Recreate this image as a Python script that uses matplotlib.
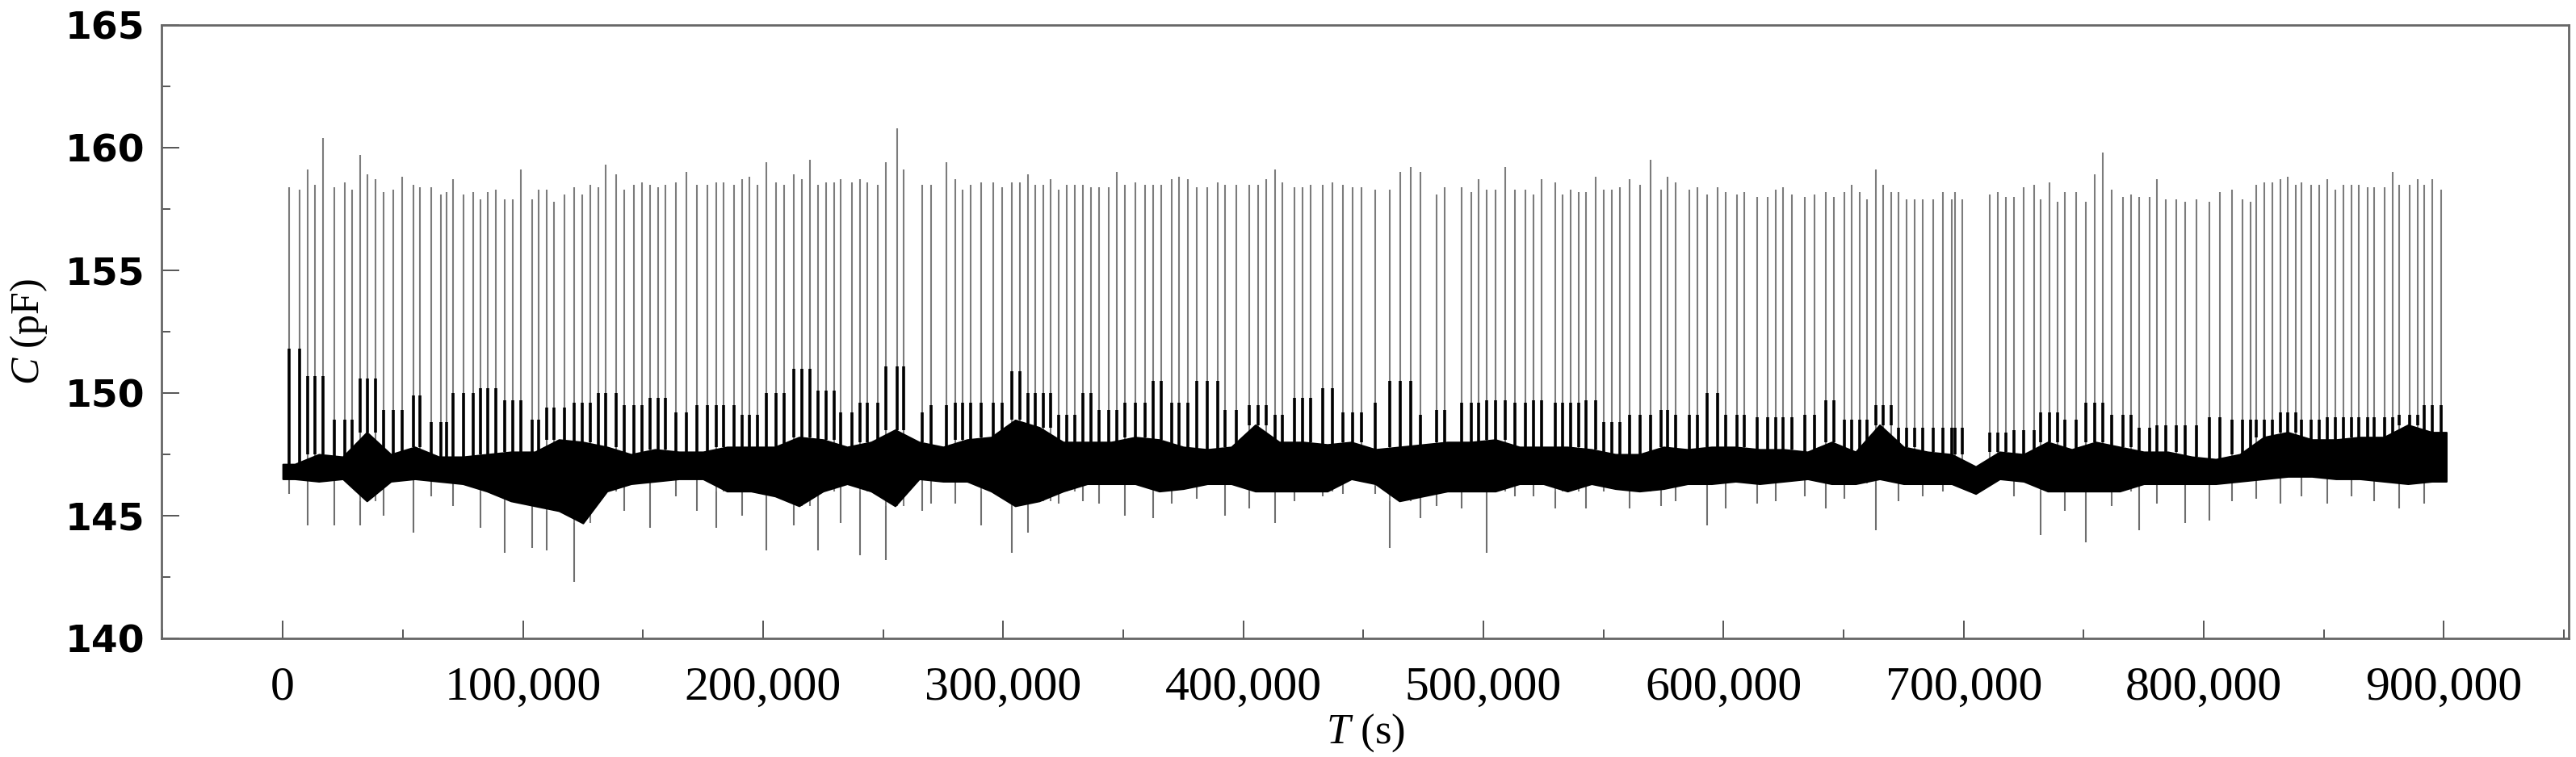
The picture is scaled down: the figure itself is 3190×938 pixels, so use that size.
import numpy as np
import matplotlib.pyplot as plt
from matplotlib.ticker import MultipleLocator

# spike times (s) and peak capacitance (pF)
spike_t = [
    2600, 7100, 10500, 13500, 16900, 21400, 25700, 28700, 32200, 35200,
    38600, 42100, 46100, 49700, 54300, 57100, 61800, 66000, 68200, 70800,
    75300, 79200, 82200, 85500, 88800, 92400, 95700, 99200, 103700, 106500,
    110000, 113000, 117300, 121200, 124800, 127900, 131300, 134600, 138700, 142100,
    146300, 149600, 152900, 156400, 159500, 163700, 168100, 172500, 176800, 180400,
    183700, 187800, 191200, 194200, 197700, 201300, 205500, 208800, 212900, 216200,
    219500, 222900, 226200,
    229600, 232400, 236900, 240400, 243500, 247800, 251100, 255700, 258600, 266200,
    270000, 276400, 280000, 283200, 286400, 290900, 296000, 299600, 303600, 306900,
    310200, 313400, 316700, 319900, 323200, 326600, 329900, 333200, 336500, 340000,
    343900, 347300, 350600, 355000, 359200, 362400, 365800, 370300, 373200, 376800,
    380700, 385000, 389200, 392400, 397100, 402500, 406200, 409500, 413300, 416300,
    421400, 424800, 428100, 433000, 437000, 441500, 445600, 449200, 454900,
    461100, 465300, 469800, 473900, 480500, 483900, 490800, 494900, 497900, 501300,
    504900, 509100, 513100, 517400, 521000, 524200, 530000, 533000, 536200, 539600,
    542600, 546800, 550000, 553500, 556900, 561000, 565300, 569500, 573900, 576700,
    580200, 585600, 589100, 593000, 597600, 600900, 605600, 608600, 614000, 618300,
    621600, 624700, 628300, 633800, 638000, 642500, 646100, 650300, 653500, 656600,
    659800, 663300, 666400, 669700, 673000, 676300, 679500, 682900,
    687200, 691500, 695100, 696300, 699300, 710800, 714200, 717700, 721100, 725000,
    729400, 732200, 735800, 739000, 742300, 746800, 751000, 754600, 757900, 761800,
    766500, 769800, 773200, 777500, 780600, 784100, 788400, 792300, 797100, 802200,
    806600, 811800, 816200, 819500, 821800, 825200, 828400, 831800, 835100, 838400,
    840500, 844700, 847900, 851300, 854700, 858100, 861400, 864400, 868200, 870900,
    875200, 878800, 881500, 885600, 889000, 891900, 895200, 898800]

spike_peak = [
    158.4, 158.3, 159.1, 158.5, 160.4, 158.4, 158.6, 158.3, 159.7, 158.9,
    158.7, 158.2, 158.3, 158.8, 158.5, 158.4, 158.4, 158.1, 158.2, 158.7,
    158.1, 158.2, 157.9, 158.2, 158.3, 157.9, 157.9, 159.1, 157.9, 158.3,
    158.3, 157.8, 158.1, 158.4, 158.1, 158.5, 158.4, 159.3, 158.9, 158.3,
    158.5, 158.6, 158.5, 158.4, 158.5, 158.6, 159.0, 158.5, 158.5, 158.6,
    158.6, 158.5, 158.7, 158.8, 158.5, 159.4, 158.6, 158.5, 158.9, 158.7,
    159.5, 158.5, 158.6,
    158.6, 158.7, 158.6, 158.7, 158.6, 158.5, 159.4, 160.8, 159.1, 158.5,
    158.5, 159.4, 158.7, 158.3, 158.5, 158.6, 158.6, 158.4, 158.6, 158.6,
    158.9, 158.5, 158.5, 158.7, 158.3, 158.5, 158.5, 158.5, 158.4, 158.4,
    158.4, 159.0, 158.5, 158.6, 158.5, 158.5, 158.5, 158.7, 158.8, 158.7,
    158.4, 158.4, 158.6, 158.5, 158.5, 158.5, 158.5, 158.7, 159.1, 158.6,
    158.4, 158.4, 158.5, 158.5, 158.6, 158.5, 158.4, 158.4, 158.3,
    158.3, 159.0, 159.2, 159.0, 158.1, 158.4, 158.4, 158.2, 158.7, 158.3,
    158.3, 159.2, 158.3, 158.3, 158.1, 158.7, 158.6, 158.1, 158.3, 158.2,
    158.2, 158.8, 158.3, 158.3, 158.4, 158.7, 158.5, 159.5, 158.3, 158.8,
    158.6, 158.3, 158.4, 158.1, 158.4, 158.2, 158.1, 158.2, 158.0, 158.0,
    158.3, 158.4, 158.1, 158.0, 158.1, 158.2, 158.0, 158.2, 158.5, 158.2,
    157.9, 159.1, 158.5, 158.2, 158.2, 157.9, 157.9, 157.9,
    157.9, 158.2, 157.9, 158.2, 157.9, 158.1, 158.2, 158.0, 158.0, 158.4,
    158.5, 157.9, 158.6, 157.8, 158.2, 158.2, 157.8, 158.9, 159.8, 158.3,
    158.0, 158.1, 158.0, 158.0, 158.7, 157.9, 157.9, 157.8, 157.9, 157.8,
    158.2, 158.3, 157.9, 157.8, 158.5, 158.6, 158.6, 158.7, 158.8, 158.5,
    158.6, 158.5, 158.5, 158.7, 158.3, 158.5, 158.5, 158.5, 158.4, 158.4,
    158.4, 159.0, 158.5, 158.5, 158.7, 158.5, 158.7, 158.3]

# baseline band per 10,000 s bin (bin centres): core top/bottom,
# dark tail top after the spikes, lowest dip
bin_t = list(range(5000, 900000, 10000))
band_hi = [
    147.1, 147.5, 147.4, 148.4, 147.5, 147.8, 147.4, 147.4, 147.5, 147.6,
    147.6, 148.1, 148.0, 147.8, 147.5, 147.7, 147.6, 147.6, 147.8, 147.8,
    147.8, 148.2, 148.1, 147.8, 148.0, 148.5, 148.0, 147.8, 148.1, 148.2,
    148.9, 148.6, 148.0, 148.0, 148.0, 148.2, 148.1, 147.8, 147.7, 147.8,
    148.7, 148.0, 148.0, 147.9, 148.0, 147.7, 147.8, 147.9, 148.0, 148.0,
    148.1, 147.8, 147.8, 147.8, 147.7, 147.5, 147.5, 147.8, 147.7, 147.8,
    147.8, 147.7, 147.7, 147.6, 148.0, 147.6, 148.7, 147.8, 147.6, 147.5,
    147.0, 147.6, 147.5, 148.0, 147.7, 148.0, 147.8, 147.6, 147.6, 147.4,
    147.3, 147.5, 148.2, 148.4, 148.1, 148.1, 148.2, 148.2, 148.7, 148.4]
band_lo = [
    146.5, 146.4, 146.5, 145.6, 146.4, 146.5, 146.4, 146.3, 146.0, 145.6,
    145.4, 145.2, 144.7, 146.0, 146.3, 146.4, 146.5, 146.5, 146.0, 146.0,
    145.8, 145.4, 146.0, 146.3, 146.0, 145.4, 146.5, 146.4, 146.4, 146.0,
    145.4, 145.6, 146.0, 146.3, 146.3, 146.3, 146.0, 146.1, 146.3, 146.3,
    146.0, 146.0, 146.0, 146.0, 146.5, 146.3, 145.6, 145.8, 146.0, 146.0,
    146.0, 146.3, 146.3, 146.0, 146.3, 146.1, 146.0, 146.1, 146.3, 146.3,
    146.4, 146.3, 146.4, 146.5, 146.3, 146.3, 146.5, 146.3, 146.3, 146.3,
    145.9, 146.5, 146.4, 146.0, 146.0, 146.0, 146.0, 146.3, 146.3, 146.3,
    146.3, 146.4, 146.5, 146.6, 146.6, 146.5, 146.5, 146.4, 146.3, 146.4]
tail_top = [
    151.8, 150.7, 148.9, 150.6, 149.3, 149.9, 148.8, 150.0, 150.2, 149.7,
    148.9, 149.4, 149.6, 150.0, 149.5, 149.8, 149.2, 149.5, 149.5, 149.1,
    150.0, 151.0, 150.1, 149.2, 149.6, 151.1, 149.2, 149.5, 149.6, 149.6,
    150.9, 150.0, 149.1, 150.0, 149.3, 149.6, 150.5, 149.6, 150.5, 149.3,
    149.5, 149.1, 149.8, 150.2, 149.2, 149.6, 150.5, 149.1, 149.3, 149.6,
    149.7, 149.6, 149.7, 149.6, 149.7, 148.8, 149.1, 149.3, 149.1, 150.0,
    149.1, 149.0, 149.0, 149.1, 149.7, 148.9, 149.5, 148.6, 148.6, 148.6,
    147.0, 148.4, 148.5, 149.2, 148.9, 149.6, 149.1, 148.6, 148.7, 148.7,
    149.0, 148.9, 148.9, 149.2, 148.9, 149.0, 149.0, 149.0, 149.1, 149.5]
dip_low = [
    145.9, 144.6, 144.6, 144.6, 145.0, 144.3, 145.8, 145.4, 144.5, 143.5,
    143.7, 143.6, 142.3, 145.6, 145.2, 144.5, 145.8, 145.2, 144.5, 145.0,
    143.6, 144.6, 143.6, 144.7, 143.4, 143.2, 145.2, 145.5, 145.5, 144.6,
    143.5, 144.3, 145.5, 145.6, 145.5, 145.0, 144.9, 145.5, 145.7, 145.0,
    145.3, 144.7, 145.6, 145.8, 145.9, 145.9, 143.7, 144.9, 145.4, 145.3,
    143.5, 145.8, 145.8, 145.3, 145.3, 146.0, 145.3, 145.4, 145.6, 144.6,
    145.3, 145.5, 145.6, 145.8, 145.3, 145.7, 144.4, 145.6, 145.8, 146.0,
    145.5, 146.4, 145.8, 144.2, 145.2, 143.9, 145.4, 144.4, 145.5, 144.7,
    144.8, 145.6, 145.7, 145.5, 145.8, 145.5, 145.8, 145.6, 145.3, 145.5]
t_start = 0
t_end = 901000

x_ticks = [0, 100000, 200000, 300000, 400000, 500000, 600000, 700000, 800000, 900000]
x_tick_labels = ['0', '100,000', '200,000', '300,000', '400,000', '500,000',
                 '600,000', '700,000', '800,000', '900,000']
y_ticks = [140, 145, 150, 155, 160, 165]

plt.rcParams['mathtext.fontset'] = 'custom'
plt.rcParams['mathtext.rm'] = 'Liberation Serif'
plt.rcParams['mathtext.it'] = 'Liberation Serif:italic'

fig = plt.figure(figsize=(31.9, 9.38), dpi=100)
ax = fig.add_axes([0.0627, 0.1567, 0.9345, 0.8103])

st = np.array(spike_t)
sp = np.array(spike_peak)
lo = np.array(band_lo)
hi = np.array(band_hi)
tail = np.array(tail_top)
dip = np.array(dip_low)
idx = st // 10000

# spikes up to the peak
ax.vlines(st, lo[idx], sp, color='#7c7c7c', lw=1.5, zorder=1)
# deepest dip in each bin, at its first spike
first = np.r_[True, idx[1:] != idx[:-1]]
ax.vlines(st[first], dip[idx[first]], lo[idx[first]], color='#6e6e6e', lw=1.5, zorder=1)

# dense baseline band
bx = np.r_[t_start, bin_t, t_end]
ax.fill_between(bx, np.r_[lo[0], lo, lo[-1]], np.r_[hi[0], hi, hi[-1]],
                color='black', lw=1.5, edgecolor='black', zorder=2)

# dark lower part of each spike, just above the band
ax.vlines(st, hi[idx], tail[idx], color='black', lw=2.6, zorder=3)

ax.set_xlim(-50500, 952000)
ax.set_ylim(140, 165)
ax.set_xticks(x_ticks)
ax.set_xticklabels(x_tick_labels, fontfamily='Liberation Serif', fontsize=43)
ax.xaxis.set_minor_locator(MultipleLocator(50000))
ax.set_yticks(y_ticks)
ax.set_yticklabels([str(v) for v in y_ticks], fontfamily='DejaVu Sans',
                   fontweight='bold', fontsize=34)
ax.yaxis.set_minor_locator(MultipleLocator(2.5))

ax.tick_params(which='both', direction='in', top=False, right=False,
               color='#555555', width=1.4)
ax.tick_params(which='major', length=16)
ax.tick_params(which='minor', length=8)
ax.tick_params(axis='x', which='major', pad=25)
ax.tick_params(axis='y', which='major', pad=15)

for s in ax.spines.values():
    s.set_color('#666666')
    s.set_linewidth(2)

ax.set_xlabel(r'$T$ (s)', fontfamily='Liberation Serif', fontsize=38, labelpad=2)
ax.set_ylabel(r'$C$ (pF)', fontfamily='Liberation Serif', fontsize=36, labelpad=14)

fig.savefig('out.png', dpi=100)
